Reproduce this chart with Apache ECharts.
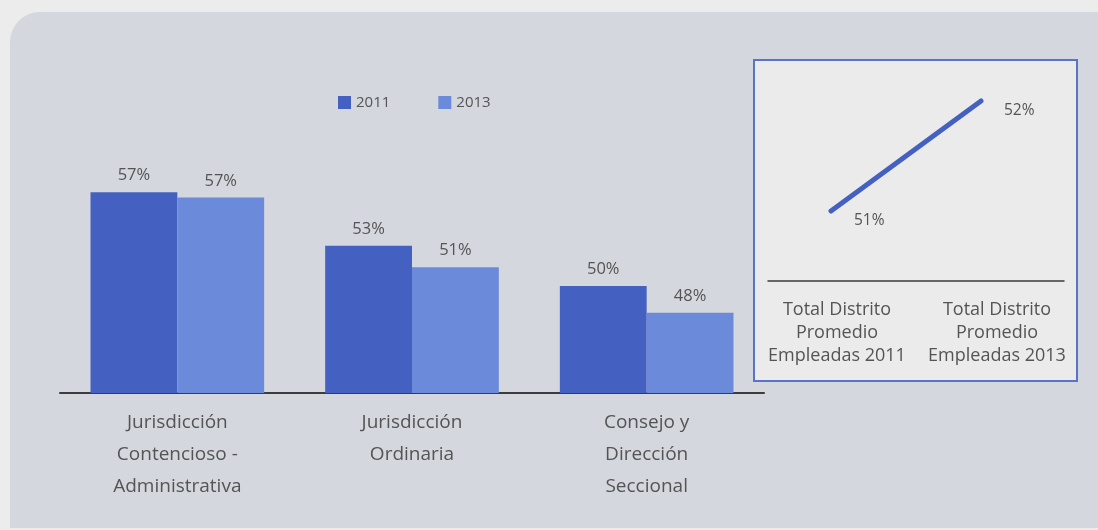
<!DOCTYPE html>
<html>
<head>
<meta charset="utf-8">
<script src="https://cdn.jsdelivr.net/npm/echarts@6/dist/echarts.min.js"></script>
<style>
  html, body { margin: 0; padding: 0; background: #ececec; }
  #chart { width: 1098px; height: 530px; }
</style>
</head>
<body>
<div id="chart"></div>
<script>
// Share of women employees by jurisdiction, 2011 vs 2013
const categories = ['Jurisdicción\nContencioso -\nAdministrativa', 'Jurisdicción\nOrdinaria', 'Consejo y\nDirección\nSeccional'];
const seriesNames = ['2011', '2013'];
const values2011 = [57, 53, 50];
const values2013 = [56.6, 51.4, 48];

// District-wide average
const totalCategories = ['Total Distrito\nPromedio\nEmpleadas 2011', 'Total Distrito\nPromedio\nEmpleadas 2013'];
const totalValues = [51, 52];

const FONT = '"Open Sans", sans-serif';
const TEXT = '#545454';
const DARK = '#4461c1';
const LIGHT = '#6b8ad9';

const chart = echarts.init(document.getElementById('chart'), null, { renderer: 'canvas' });

const pct = p => Math.round(p.value) + '%';

chart.setOption({
  backgroundColor: '#ececec',
  animation: false,
  textStyle: { fontFamily: FONT },
  graphic: [
    { type: 'rect', z: -10, shape: { x: 10, y: 12, width: 1100, height: 516, r: [30, 0, 0, 0] },
      style: { fill: '#d4d7dd' } },
    { type: 'rect', z: -9, shape: { x: 754, y: 60, width: 323, height: 321 },
      style: { fill: '#ebebeb', stroke: '#5a73c4', lineWidth: 2 } }
  ],
  legend: {
    data: seriesNames,
    left: 333, top: 90,
    itemWidth: 13, itemHeight: 13, itemGap: 48,
    icon: 'rect',
    textStyle: { color: TEXT, fontSize: 15, fontFamily: FONT }
  },
  grid: [
    { left: 60, width: 704, top: 152, height: 241 },
    { left: 756, width: 300, top: 46, height: 275 },
    { left: 757, width: 320, top: 46, height: 235 },
    { left: 768, width: 296, top: 46, height: 235 }
  ],
  xAxis: [
    { gridIndex: 0, type: 'category', data: categories,
      axisLine: { lineStyle: { color: '#3c3c3c', width: 2 } },
      axisTick: { show: false },
      axisLabel: { interval: 0, color: TEXT, fontSize: 19, lineHeight: 32, margin: 14, fontFamily: FONT } },
    { gridIndex: 1, type: 'category', data: totalCategories, show: false },
    { gridIndex: 2, type: 'category', data: totalCategories,
      axisLine: { show: false }, axisTick: { show: false },
      axisLabel: { interval: 0, hideOverlap: false, color: TEXT, fontSize: 18, lineHeight: 23, margin: 17, fontFamily: FONT } },
    { gridIndex: 3, type: 'category', data: totalCategories,
      axisLine: { lineStyle: { color: '#3c3c3c', width: 1.5 } },
      axisTick: { show: false }, axisLabel: { show: false } }
  ],
  yAxis: [
    { gridIndex: 0, type: 'value', min: 42, max: 60, show: false, splitLine: { show: false } },
    { gridIndex: 1, type: 'value', min: 50, max: 52.5, show: false, splitLine: { show: false } },
    { gridIndex: 2, type: 'value', show: false, splitLine: { show: false } },
    { gridIndex: 3, type: 'value', show: false, splitLine: { show: false } }
  ],
  series: [
    { name: '2011', type: 'bar', xAxisIndex: 0, yAxisIndex: 0, data: values2011,
      barGap: '0%', barCategoryGap: '26%',
      itemStyle: { color: DARK },
      label: { show: true, position: 'top', distance: 8, color: TEXT, fontSize: 16.5, fontFamily: FONT, formatter: pct } },
    { name: '2013', type: 'bar', xAxisIndex: 0, yAxisIndex: 0, data: values2013,
      itemStyle: { color: LIGHT },
      label: { show: true, position: 'top', distance: 8, color: TEXT, fontSize: 16.5, fontFamily: FONT, formatter: pct } },
    { name: 'Total', type: 'line', xAxisIndex: 1, yAxisIndex: 1, data: totalValues,
      symbol: 'circle', symbolSize: 0, showSymbol: true,
      lineStyle: { color: DARK, width: 5, cap: 'round' },
      itemStyle: { color: DARK },
      label: { show: true, position: 'right', distance: 0, offset: [23, 10], color: TEXT, fontSize: 15.5, fontFamily: FONT, formatter: pct } }
  ]
});
</script>
</body>
</html>
